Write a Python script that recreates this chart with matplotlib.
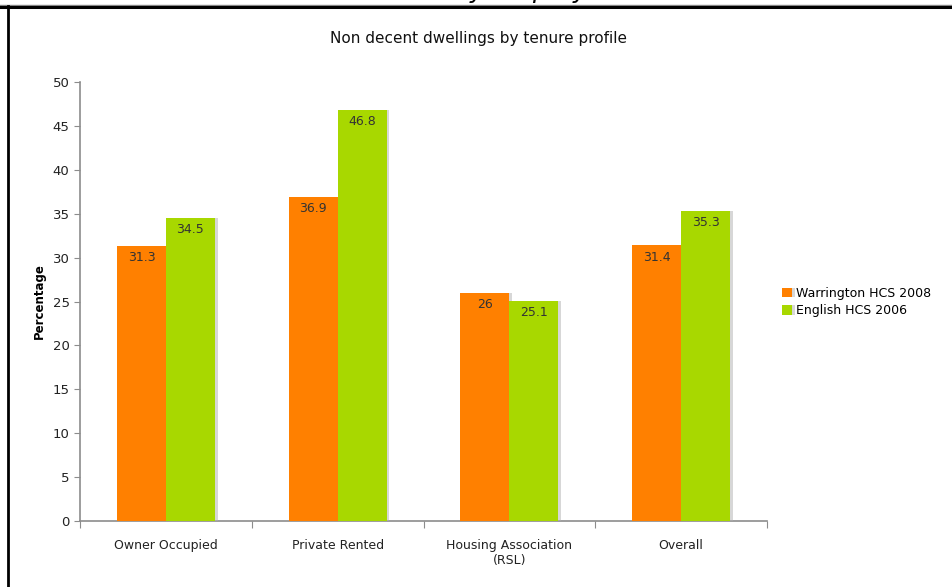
import numpy as np
import matplotlib
matplotlib.use("Agg")
import matplotlib.pyplot as plt
from matplotlib.lines import Line2D
import matplotlib.patheffects as pe

categories = ["Owner Occupied", "Private Rented", "Housing Association\n(RSL)", "Overall"]
warrington = [31.3, 36.9, 26, 31.4]
english = [34.5, 46.8, 25.1, 35.3]
series_names = ["Warrington HCS 2008", "English HCS 2006"]
yticks = [0, 5, 10, 15, 20, 25, 30, 35, 40, 45, 50]

orange = "#ff8000"
green = "#a8d800"
axis_grey = "#8c8c8c"

fig = plt.figure(figsize=(9.52, 5.87), dpi=100)
ax = fig.add_axes([80/952, 1-521/587, 687/952, (521-82)/587])

x = np.arange(len(categories))
w = 0.285
shadow = [pe.SimplePatchShadow(offset=(2, 0), shadow_rgbFace="#b0b0b0", alpha=0.5), pe.Normal()]
b1 = ax.bar(x - w/2, warrington, w, color=orange, label=series_names[0], path_effects=shadow, zorder=3)
b2 = ax.bar(x + w/2, english, w, color=green, label=series_names[1], path_effects=shadow, zorder=3)

for bars, vals in ((b1, warrington), (b2, english)):
    for r, v in zip(bars, vals):
        ax.annotate(f"{v:g}", (r.get_x() + r.get_width()/2, v), xytext=(0, -8.5),
                    textcoords="offset points", ha="center", va="center",
                    fontsize=9, color="#333333", zorder=4)

ax.set_xlim(-0.5, len(categories) - 0.5)
ax.set_ylim(0, 50)
ax.set_yticks(yticks)
ax.tick_params(axis="y", labelsize=9.5, colors="#222222", length=4, color=axis_grey)
ax.set_xticks(np.arange(-0.5, len(categories)), labels=[""] * (len(categories) + 1))
ax.tick_params(axis="x", which="major", length=5, color=axis_grey)
ax.set_xticks(x, labels=categories, minor=True)
ax.tick_params(axis="x", which="minor", length=0, labelsize=9, pad=13, colors="#222222")
for s in ("top", "right"):
    ax.spines[s].set_visible(False)
for s in ("left", "bottom"):
    ax.spines[s].set_color(axis_grey)
    ax.spines[s].set_linewidth(1.2)
ax.set_ylabel("Percentage", fontsize=8.5, fontweight="bold", labelpad=5)

fig.text(478/952, 1-38/587, "Non decent dwellings by tenure profile", ha="center", va="center",
         fontsize=11, color="#111111")

fig.legend(handles=[b1, b2], labels=series_names, loc="center left",
           bbox_to_anchor=(771/952, 1-302/587), frameon=False, fontsize=9,
           handlelength=0.8, handleheight=0.8, handletextpad=0.3, labelspacing=0.35)

# border of the clipped page above
fig.add_artist(Line2D([0, 1], [1-5/587, 1-5/587], color="#888888", lw=1.0))
fig.add_artist(Line2D([0, 1], [1-6.5/587, 1-6.5/587], color="black", lw=2.2))
fig.add_artist(Line2D([8/952, 8/952], [0, 1-6/587], color="black", lw=2.0))
# descenders of the cut-off caption above
for ch, px in (("y", 477), ("p", 540), ("y", 580)):
    fig.text(px/952, 1+2/587, ch, ha="center", va="baseline", fontsize=18, style="italic")

fig.savefig("out.png", dpi=100)
